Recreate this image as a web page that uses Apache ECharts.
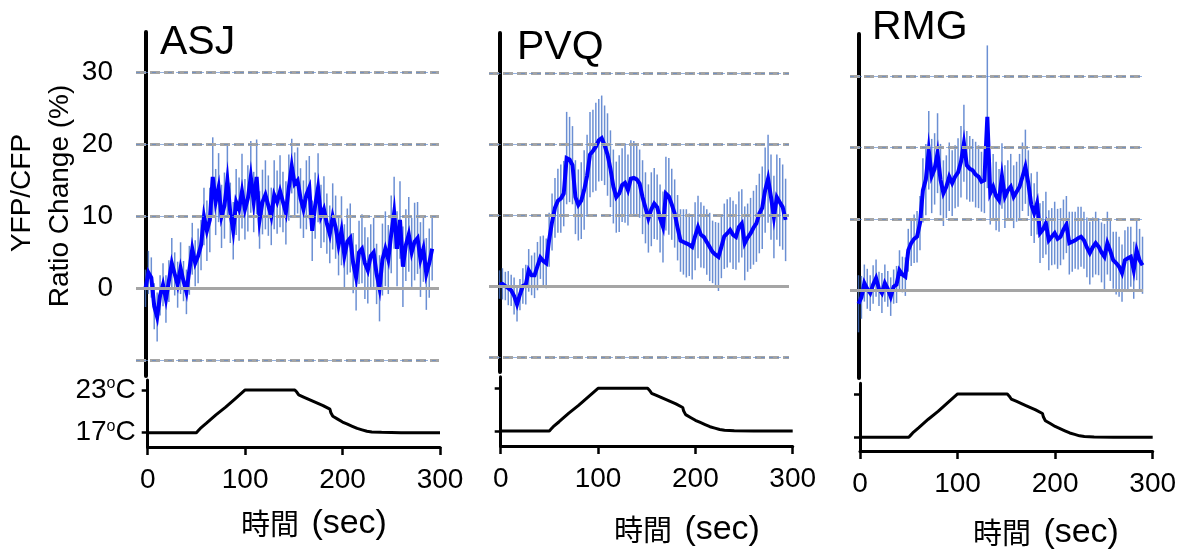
<!DOCTYPE html>
<html><head><meta charset="utf-8">
<script src="https://cdn.jsdelivr.net/npm/echarts@6/dist/echarts.min.js"></script>
<style>html,body{margin:0;padding:0;background:#fff}#c{width:1188px;height:552px}</style>
</head><body><div id="c"></div>
<script>
// ---------------- data ----------------
const TIME = [0,3,6,9,12,15,18,21,24,27,30,33,36,39,42,45,48,51,54,57,60,63,66,69,72,75,78,81,84,87,90,93,96,99,102,105,108,111,114,117,120,123,126,129,132,135,138,141,144,147,150,153,156,159,162,165,168,171,174,177,180,183,186,189,192,195,198,201,204,207,210,213,216,219,222,225,228,231,234,237,240,243,246,249,252,255,258,261,264,267,270,273,276,279,282,285,288,291,294];

const ASJ_MEAN = [0,2.2,1.5,-2.5,-4.0,-1.0,0.5,-1.5,1.0,3.5,
 2.0,0.5,2.8,1.0,-0.5,2.5,5.5,3.5,4.5,6.0,
 10.0,8.0,9.5,15.5,12.0,14.0,10.0,11.5,15.0,10.5,
 8.0,12.0,11.0,13.5,11.0,12.5,15.5,12.0,15.5,9.5,
 12.0,13.0,11.5,10.0,13.0,12.0,13.5,12.0,10.5,14.0,
 17.0,14.5,15.0,12.5,11.0,13.0,14.0,8.0,11.5,14.0,
 10.0,11.0,9.0,7.5,10.0,8.5,6.0,8.0,4.5,6.5,
 7.0,3.5,1.5,5.0,5.5,3.5,2.5,4.5,5.0,2.0,
 0.0,4.0,5.5,4.0,7.5,10.5,5.5,9.5,3.0,6.0,
 7.5,5.0,6.5,7.0,4.0,5.5,2.0,3.5,5.5];
const ASJ_ERR = [2.6,3.0,2.8,3.2,3.4,2.8,3.0,3.3,2.9,3.5,
 3.0,3.2,3.6,2.8,3.1,3.4,3.6,3.2,3.8,3.5,
 4.0,4.2,4.5,5.5,4.6,4.8,4.4,4.6,5.0,4.2,
 4.0,4.6,4.4,5.2,4.2,4.6,5.0,4.2,5.2,4.0,
 4.5,4.8,4.2,4.0,4.8,4.4,5.0,4.2,4.4,4.6,
 3.8,4.4,4.6,4.2,4.0,4.8,4.4,4.2,4.6,4.8,
 4.4,4.6,4.2,4.0,4.6,4.4,4.2,4.8,4.4,4.6,
 4.8,4.2,4.6,4.4,4.8,5.0,4.6,4.4,4.8,4.2,
 4.6,5.0,5.2,4.8,5.4,5.0,5.2,5.4,5.6,5.0,
 5.2,4.8,5.4,5.0,5.2,4.6,5.0,4.8,4.4];

const PVQ_MEAN = [0.2,0.3,0.0,-0.3,-0.6,-1.4,-2.6,-1.2,0.0,0.2,
 2.2,1.5,1.5,2.8,4.0,3.5,3.2,6.5,9.0,11.0,
 12.0,12.3,13.0,18.0,17.8,17.0,12.5,11.4,12.0,13.5,
 15.5,18.5,19.0,19.6,20.5,20.8,19.8,18.5,16.5,14.0,
 12.5,13.0,14.2,14.5,13.5,15.1,15.2,15.0,14.4,12.5,
 11.0,9.5,10.8,11.6,11.1,9.5,8.3,13.0,12.6,11.5,
 10.2,8.2,6.4,6.2,6.0,5.8,5.5,7.0,8.3,7.2,
 6.9,6.2,5.5,4.8,4.4,4.1,5.5,7.0,7.4,7.9,
 7.2,6.9,8.3,8.8,6.0,6.8,7.4,8.2,8.8,10.2,
 11.0,13.5,15.1,12.5,9.7,12.5,11.8,11.1,9.3];
const PVQ_ERR = [2.0,2.2,2.0,2.4,2.2,2.6,2.4,2.2,2.5,2.8,
 3.0,2.8,3.2,3.4,3.0,3.6,3.5,3.8,4.0,4.2,
 4.5,4.8,4.6,6.5,6.0,5.5,5.2,5.0,5.4,5.6,
 5.8,6.0,5.8,6.2,5.8,6.0,5.6,5.8,5.4,5.2,
 5.0,5.4,5.2,5.6,5.0,5.4,5.2,5.0,4.8,5.2,
 5.0,4.8,5.2,5.0,4.6,4.8,5.0,5.2,5.4,5.0,
 4.8,4.6,4.4,4.6,4.8,4.4,4.6,4.8,4.4,4.6,
 4.4,4.6,4.8,4.4,4.6,4.8,4.4,4.6,4.8,4.6,
 4.8,4.6,5.0,4.8,5.2,4.8,5.0,5.2,5.4,5.6,
 5.8,6.0,6.2,6.0,5.8,6.0,6.2,6.0,5.8];

const RMG_MEAN = [-1.9,-1.0,1.0,0.2,-0.4,0.8,1.7,0.2,-0.4,1.0,
 0.2,-0.9,0.5,0.8,2.8,2.2,1.9,5.6,6.6,7.2,
 7.5,9.4,14.0,15.5,19.6,16.0,17.0,19.2,15.5,13.6,
 14.5,15.9,15.0,15.9,16.5,18.0,20.6,17.5,17.0,16.8,
 16.2,15.9,15.2,15.4,24.3,13.6,14.5,13.2,12.6,16.0,
 13.1,14.0,14.5,13.1,13.8,14.5,15.9,17.3,15.0,12.0,
 10.8,12.2,8.0,8.5,9.4,7.0,7.5,8.0,7.2,7.5,
 8.5,9.2,6.6,6.8,7.0,7.3,7.5,7.0,6.0,5.2,
 6.0,6.6,6.1,5.3,4.7,6.6,5.5,4.2,3.8,3.3,
 2.4,4.2,4.5,4.7,2.8,5.6,4.2,3.5];
const RMG_ERR = [4.0,3.0,2.6,2.8,2.5,2.7,2.6,2.4,2.8,2.6,
 2.5,2.7,2.4,2.6,2.8,2.5,2.7,3.0,3.2,3.4,
 3.6,3.8,4.5,5.0,5.5,5.2,5.0,5.6,5.0,4.6,
 4.4,4.8,4.6,4.4,4.8,5.0,5.4,4.8,4.6,4.4,
 4.6,4.4,4.2,4.6,10.0,4.4,4.6,4.8,4.4,4.6,
 4.4,4.2,4.6,4.4,4.2,4.6,4.8,5.2,4.6,4.4,
 4.2,4.4,4.2,4.0,4.4,4.2,4.0,4.4,4.2,4.0,
 4.2,4.0,4.4,4.2,4.0,4.4,4.2,4.0,4.2,4.4,
 4.2,4.4,4.0,4.2,4.6,4.4,4.2,4.0,4.4,4.2,
 4.0,4.2,4.4,4.2,4.0,4.2,4.4,4.0];

const TEMP_TIME = [0,50,52,54,60,70,80,90,100,110,120,130,140,151,153,155,160,170,180,187,188,190,195,200,205,210,215,220,225,230,240,260,280,300];
const TEMP_C    = [17,17,17.3,17.6,18.3,19.5,20.6,21.8,23,23,23,23,23,23,22.7,22.3,22.0,21.4,20.8,20.3,19.8,19.3,18.9,18.5,18.2,17.9,17.6,17.4,17.2,17.1,17.05,17.0,17.0,17.0];

const PANEL_NAMES = ['ASJ', 'PVQ', 'RMG'];
const RATIO_TICKS = [0, 10, 20, 30];
const GRID_VALUES = [[-10, 0, 10, 20, 30], [-10, 0, 10, 20, 30], [0, 10, 20, 30]];
const TEMP_TICKS = [17, 23];
const Y_TITLE = ['YFP/CFP', 'Ratio Change (%)'];
const X_TITLE = ['時間', '(sec)'];

// ---------------- layout ----------------
const FONT = '"Liberation Sans", Arial, "Noto Sans CJK JP", sans-serif';
const CJK = '"Noto Sans CJK JP", sans-serif';
const MEANS = [ASJ_MEAN, PVQ_MEAN, RMG_MEAN];
const ERRS = [ASJ_ERR, PVQ_ERR, RMG_ERR];
const LAYOUT = [
  { top: {left: 136.0, width: 303, top: 32, height: 344, xmin: -9.7, xmax: 301, ymin: -12.2, ymax: 35.65},
    bot: {left: 147.7, width: 292.3, top: 380, height: 67, ymin: 14.99, ymax: 24.4},
    title: [160, 43], xname: [314, 524] },
  { top: {left: 489.0, width: 300, top: 33, height: 339, xmin: -10.8, xmax: 297.5, ymin: -12.1, ymax: 35.6},
    bot: {left: 500.7, width: 292, top: 376.7, height: 69.3, ymin: 14.89, ymax: 24.63},
    title: [517, 48], xname: [687, 530] },
  { top: {left: 850.0, width: 293, top: 34, height: 344, xmin: -8.7, xmax: 291.5, ymin: -12.3, ymax: 35.9},
    bot: {left: 860, width: 292.7, top: 383.3, height: 67.7, ymin: 15.1, ymax: 24.48},
    title: [872, 28], xname: [1046, 533] }
];

const grid = [], xAxis = [], yAxis = [], series = [], graphic = [];

function gridSeries(axisIdx, items, z) {
  return {type: 'line', xAxisIndex: axisIdx, yAxisIndex: axisIdx, data: [[0, 0]], showSymbol: false, z: z,
    lineStyle: {opacity: 0}, silent: true,
    markLine: {silent: true, symbol: 'none', animation: false, label: {show: false}, data: items}};
}

LAYOUT.forEach((L, i) => {
  const gt = 2 * i, gb = 2 * i + 1;
  grid.push({left: L.top.left, top: L.top.top, width: L.top.width, height: L.top.height, containLabel: false, outerBoundsMode: 'none'});
  grid.push({left: L.bot.left, top: L.bot.top, width: L.bot.width, height: L.bot.height, containLabel: false, outerBoundsMode: 'none'});

  xAxis.push({gridIndex: gt, type: 'value', min: L.top.xmin, max: L.top.xmax, show: false, axisLine: {onZero: false}, splitLine: {show: false}});
  yAxis.push({gridIndex: gt, type: 'value', min: L.top.ymin, max: L.top.ymax,
    axisLine: {show: true, onZero: true, lineStyle: {color: '#000', width: 4}},
    axisTick: {show: false}, splitLine: {show: false},
    axisLabel: i === 0 ? {show: true, customValues: RATIO_TICKS, fontSize: 28, fontFamily: FONT, color: '#000', margin: 23} : {show: false}
  });

  xAxis.push({gridIndex: gb, type: 'value', min: 0, max: 300, interval: 100,
    axisLine: {show: true, onZero: false, lineStyle: {color: '#000', width: 3}},
    axisTick: {show: true, length: 8, lineStyle: {color: '#000', width: 2.5}},
    axisLabel: {fontSize: 28, fontFamily: FONT, color: '#000', margin: 19},
    splitLine: {show: false}});
  yAxis.push({gridIndex: gb, type: 'value', min: L.bot.ymin, max: L.bot.ymax,
    axisLine: {show: true, onZero: false, lineStyle: {color: '#000', width: 3}},
    axisTick: {show: true, customValues: TEMP_TICKS, length: 6, lineStyle: {color: '#000', width: 2.5}},
    splitLine: {show: false},
    axisLabel: i === 0 ? {show: true, customValues: TEMP_TICKS, margin: 12,
      formatter: v => '{n|' + v + '}{s|o}{n|C}',
      rich: {n: {fontSize: 28, fontFamily: FONT, color: '#000'}, s: {fontSize: 16, fontFamily: FONT, color: '#000', verticalAlign: 'top'}}
    } : {show: false}
  });

  // gridlines: thick grey dashes, then a thin blue dashed line on top (zero line solid grey)
  const grey = [], blue = [];
  GRID_VALUES[i].forEach(v => {
    if (v === 0) grey.push({yAxis: 0, lineStyle: {color: '#a5a5a5', width: 3, type: 'solid'}});
    else {
      grey.push({yAxis: v, lineStyle: {color: '#a5a5a5', width: 3, type: [10, 4]}});
      blue.push({yAxis: v, lineStyle: {color: '#5a86cf', width: 0.7, type: [4, 4], opacity: 0.9}});
    }
  });
  series.push(gridSeries(gt, grey, 1));
  series.push(gridSeries(gt, blue, 1.5));

  const mean = MEANS[i], err = ERRS[i];
  const n = Math.min(mean.length, err.length, TIME.length);
  const bars = [], line = [];
  for (let k = 0; k < n; k++) {
    bars.push([TIME[k], mean[k] - err[k], mean[k] + err[k]]);
    line.push([TIME[k], mean[k]]);
  }
  series.push({type: 'custom', xAxisIndex: gt, yAxisIndex: gt, z: 2, silent: true,
    encode: {x: 0, y: [1, 2]}, data: bars,
    renderItem: (params, api) => {
      const t = api.value(0);
      const p1 = api.coord([t, api.value(1)]), p2 = api.coord([t, api.value(2)]);
      return {type: 'line', shape: {x1: p1[0], y1: p1[1], x2: p2[0], y2: p2[1]},
        style: {stroke: 'rgba(70,115,200,0.8)', lineWidth: 1.5}};
    }});
  series.push({type: 'line', xAxisIndex: gt, yAxisIndex: gt, z: 3, data: line, showSymbol: false, symbol: 'none',
    lineStyle: {color: '#0000ff', width: 4, join: 'miter'}, silent: true});

  const temp = TEMP_TIME.map((t, k) => [t, TEMP_C[k]]);
  series.push({type: 'line', xAxisIndex: gb, yAxisIndex: gb, data: temp, showSymbol: false, symbol: 'none',
    lineStyle: {color: '#000', width: 3}, silent: true});

  graphic.push({type: 'text', x: L.title[0], y: L.title[1], style: {text: PANEL_NAMES[i], fontSize: 41, fontFamily: FONT, fill: '#000', align: 'left', verticalAlign: 'middle', textAlign: 'left', textVerticalAlign: 'middle'}});
  graphic.push({type: 'text', x: L.xname[0], y: L.xname[1], style: {
    text: '{j|' + X_TITLE[0] + '} {l|' + X_TITLE[1] + '}',
    fontSize: 30, fontFamily: FONT, fill: '#000', align: 'center', verticalAlign: 'middle', textAlign: 'center', textVerticalAlign: 'middle',
    rich: {j: {fontSize: 29, fontFamily: CJK, fill: '#000', color: '#000', padding: [0, 4, 0, 0]}, l: {fontSize: 34, fontFamily: FONT, fill: '#000', color: '#000'}}
  }});
});

graphic.push({type: 'text', x: 22, y: 193, rotation: Math.PI / 2, style: {text: Y_TITLE[0], fontSize: 28, fontFamily: FONT, fill: '#000', align: 'center', verticalAlign: 'middle', textAlign: 'center', textVerticalAlign: 'middle'}});
graphic.push({type: 'text', x: 60, y: 196, rotation: Math.PI / 2, style: {text: Y_TITLE[1], fontSize: 28, fontFamily: FONT, fill: '#000', align: 'center', verticalAlign: 'middle', textAlign: 'center', textVerticalAlign: 'middle'}});

const chart = echarts.init(document.getElementById('c'), null, {renderer: 'canvas'});
chart.setOption({animation: false, backgroundColor: '#fff', grid, xAxis, yAxis, series, graphic});
</script></body></html>
